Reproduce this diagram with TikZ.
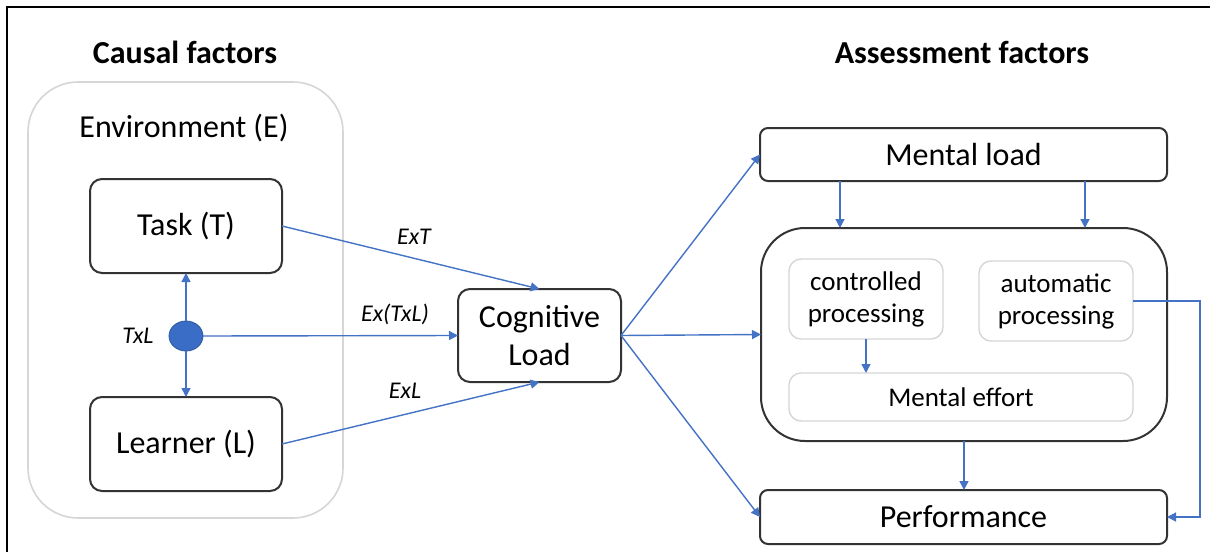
\documentclass[tikz,border=0pt]{standalone}
\usepackage{fontspec}
\setmainfont{Carlito}
\usetikzlibrary{arrows.meta,shapes.geometric}
\definecolor{lineblue}{HTML}{4472C4}
\definecolor{dotblue}{HTML}{3A6DC6}
\definecolor{boxgray}{HTML}{D6D6D6}
\definecolor{boxdark}{HTML}{333333}
\tikzset{
  darkbox/.style={draw=boxdark, line width=1pt, rectangle, rounded corners=6pt, inner sep=0pt, outer sep=0pt, align=center, font=\fontsize{16}{19}\selectfont},
  lightbox/.style={draw=boxgray, line width=0.7pt, rectangle, rounded corners=6pt, inner sep=0pt, outer sep=0pt, align=center, font=\fontsize{13.5}{16}\selectfont},
  arr/.style={draw=lineblue, line width=0.7pt, -{Triangle[length=4.5pt,width=4.5pt]}},
  lbl/.style={font=\fontsize{12}{14}\selectfont\itshape, inner sep=0pt},
  heading/.style={font=\fontsize{16}{19}\selectfont\bfseries, inner sep=0pt},
}
\begin{document}
\begin{tikzpicture}[x=0.5pt,y=-0.5pt]
\useasboundingbox (0,0) rectangle (1210,552);
\fill[white] (0,0) rectangle (1210,552);
% frame
\draw[line width=1.2pt, black] (7,552) -- (7,7) -- (1210,7);
% headings
\node[heading] (hc) at (185,52) {Causal factors};
\node[heading] (ha) at (962,52) {Assessment factors};
% environment
\node[draw=boxgray, line width=0.8pt, rectangle, rounded corners=25pt, minimum width=157.5pt, minimum height=218pt, inner sep=0pt] (env) at (185.5,300) {};
\node[font=\fontsize{16}{19}\selectfont, inner sep=0pt] (envl) at (184,128) {Environment (E)};
\node[darkbox, minimum width=96pt, minimum height=47pt] (task) at (186,226) {Task (T)};
\node[darkbox, minimum width=96pt, minimum height=47pt] (learner) at (186,444) {Learner (L)};
\node[ellipse, fill=dotblue, draw=dotblue!80!black, line width=0.4pt, minimum width=17pt, minimum height=15pt, inner sep=0pt, outer sep=0pt] (dot) at (186,336) {};
\node[lbl] (txl) at (138,336) {TxL};
% cognitive load
\node[darkbox, minimum width=81.5pt, minimum height=46.5pt] (cog) at (539.5,335.5) {Cognitive\\Load};
% right side
\node[darkbox, rounded corners=4pt, minimum width=203.5pt, minimum height=26.5pt] (ml) at (963.5,154.5) {Mental load};
\node[darkbox, rounded corners=22pt, minimum width=203pt, minimum height=106.5pt] (big) at (964,334.5) {};
\node[lightbox, minimum width=77pt, minimum height=40pt] (cp) at (866,299) {controlled\\processing};
\node[lightbox, minimum width=77pt, minimum height=40pt] (ap) at (1056,301) {automatic\\processing};
\node[lightbox, minimum width=172pt, minimum height=24pt] (me) at (961,397) {Mental effort};
\node[darkbox, rounded corners=4pt, minimum width=203.5pt, minimum height=27pt] (perf) at (963.5,517) {Performance};
% connectors left
\draw[arr] (dot.north) -- (task.south);
\draw[arr] (dot.south) -- (learner.north);
\draw[arr] (task.east) -- (cog.north);
\draw[arr] (dot.east) -- (cog.west);
\draw[arr] (learner.east) -- (cog.south);
\node[lbl] (lext) at (414,237) {ExT};
\node[lbl] (lextl) at (395,314) {Ex(TxL)};
\node[lbl] (lexl) at (405,391) {ExL};
% connectors right
\draw[arr] (cog.east) -- (ml.west);
\draw[arr] (cog.east) -- (big.west);
\draw[arr] (cog.east) -- (perf.west);
\draw[arr] ([xshift=-61.75pt]ml.south) -- ([xshift=-61.75pt]ml.south |- big.north);
\draw[arr] ([xshift=60.75pt]ml.south) -- ([xshift=60.75pt]ml.south |- big.north);
\draw[arr] (cp.south) -- (cp.south |- me.north);
\draw[arr] (big.south) -- (big.south |- perf.north);
\draw[arr] (ap.east) -- ++(33.5pt,0) |- (perf.east);
\end{tikzpicture}
\end{document}
